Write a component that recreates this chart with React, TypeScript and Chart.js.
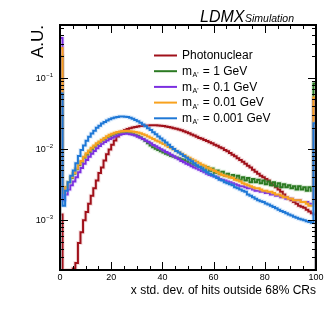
import React, { useEffect, useRef } from "react";
import { Chart, registerables } from "chart.js";
Chart.register(...registerables);

const X_MIN = 0;
const X_MAX = 100;
const X_MAJOR_TICKS = [0, 20, 40, 60, 80, 100];
const X_MINOR_STEP = 5;
const Y_MIN = 2e-4;
const Y_MAX = 0.55;
const Y_DECADE_LABELS = [-3, -2, -1];

const SERIES_LABELS = ["Photonuclear", "1 GeV", "0.1 GeV", "0.01 GeV", "0.001 GeV"];
const SERIES_COLORS = ["#a0101a", "#2b7a22", "#7b2fe0", "#f8a21e", "#1f78d6"];
const HALO_COLORS = [
  "rgba(200,90,95,0.2)",
  "rgba(110,180,100,0.22)",
  "rgba(170,130,240,0.2)",
  "rgba(250,200,120,0.25)",
  "rgba(120,180,240,0.25)",
];

// 100 bins of width 1, from 0 to 100
const photonuclear = [
  0.0012, 0, 0, 0, 0, 0.00021, 0.00025, 0.00048, 0.00068, 0.0010,
  0.0013, 0.0017, 0.0022, 0.0028, 0.0036, 0.0046, 0.0055, 0.0069, 0.0084, 0.0098,
  0.0115, 0.0131, 0.0150, 0.0165, 0.0176, 0.0185, 0.0190, 0.0196, 0.0200, 0.0204,
  0.0207, 0.0210, 0.0212, 0.0213, 0.0214, 0.0215, 0.0215, 0.0215, 0.0214, 0.0212,
  0.0210, 0.0207, 0.0203, 0.0200, 0.0196, 0.0192, 0.0188, 0.0183, 0.0178, 0.0172,
  0.0166, 0.0160, 0.0154, 0.0148, 0.0143, 0.0139, 0.0134, 0.0129, 0.0124, 0.0120,
  0.0115, 0.0111, 0.0106, 0.0102, 0.0097, 0.0093, 0.0088, 0.0083, 0.0079, 0.0074,
  0.0070, 0.0066, 0.0062, 0.0058, 0.0055, 0.0051, 0.0048, 0.0045, 0.0042, 0.0040,
  0.0038, 0.0036, 0.0033, 0.0031, 0.0029, 0.0027, 0.0025, 0.0023, 0.0021, 0.0020,
  0.0019, 0.0018, 0.0017, 0.0016, 0.00155, 0.0015, 0.0014, 0.00132, 0.00125, 0.0012,
];
const mA1GeV = [
  0.2, 0.0027, 0.0029, 0.0034, 0.0039, 0.0045, 0.0052, 0.0059, 0.0066, 0.0075,
  0.0083, 0.0091, 0.0099, 0.0107, 0.0115, 0.0122, 0.0130, 0.0137, 0.0144, 0.0150,
  0.0156, 0.0161, 0.0165, 0.0168, 0.0170, 0.0171, 0.0170, 0.0168, 0.0164, 0.0159,
  0.0153, 0.0146, 0.0138, 0.0129, 0.0120, 0.0112, 0.0106, 0.0101, 0.0097, 0.0093,
  0.0089, 0.0086, 0.0083, 0.0080, 0.0078, 0.0076, 0.0074, 0.0072, 0.0070, 0.0067,
  0.0064, 0.0062, 0.0059, 0.0057, 0.0056, 0.0058, 0.0050, 0.0056, 0.0049, 0.0053,
  0.0046, 0.0050, 0.0044, 0.0048, 0.0042, 0.0045, 0.0040, 0.0043, 0.0038, 0.0042,
  0.0037, 0.0040, 0.0036, 0.0039, 0.0034, 0.0038, 0.0034, 0.0037, 0.0033, 0.0036,
  0.0032, 0.0035, 0.0031, 0.0034, 0.0030, 0.0033, 0.0029, 0.0032, 0.0029, 0.0031,
  0.0028, 0.0030, 0.0027, 0.0030, 0.0027, 0.0029, 0.0026, 0.0029, 0.0026, 0.083,
];
const mA01GeV = [
  0.36, 0.0019, 0.0023, 0.0027, 0.0031, 0.0035, 0.0040, 0.0047, 0.0054, 0.0062,
  0.0070, 0.0078, 0.0086, 0.0094, 0.0102, 0.0110, 0.0118, 0.0125, 0.0131, 0.0138,
  0.0144, 0.0150, 0.0155, 0.0159, 0.0162, 0.0163, 0.0163, 0.0161, 0.0158, 0.0154,
  0.0149, 0.0144, 0.0138, 0.0132, 0.0126, 0.0120, 0.0114, 0.0109, 0.0104, 0.0099,
  0.0095, 0.0091, 0.0087, 0.0083, 0.0079, 0.0075, 0.0072, 0.0068, 0.0065, 0.0062,
  0.0060, 0.0057, 0.0055, 0.0053, 0.0051, 0.0049, 0.0047, 0.0045, 0.0043, 0.0042,
  0.0041, 0.0040, 0.0038, 0.0037, 0.0036, 0.0035, 0.0034, 0.0033, 0.0032, 0.0031,
  0.0030, 0.0030, 0.0029, 0.0028, 0.0028, 0.0027, 0.0026, 0.0026, 0.0025, 0.0025,
  0.0024, 0.0024, 0.0023, 0.0023, 0.0022, 0.0022, 0.0021, 0.0021, 0.0020, 0.0020,
  0.0020, 0.0019, 0.0019, 0.0019, 0.0018, 0.0018, 0.0018, 0.0017, 0.0017, 0.05,
];
const mA001GeV = [
  0.26, 0.0024, 0.0029, 0.0034, 0.0040, 0.0046, 0.0053, 0.0061, 0.0068, 0.0078,
  0.0087, 0.0095, 0.0104, 0.0112, 0.0120, 0.0127, 0.0135, 0.0143, 0.0151, 0.0158,
  0.0164, 0.0169, 0.0173, 0.0176, 0.0178, 0.0179, 0.0179, 0.0178, 0.0176, 0.0173,
  0.0170, 0.0166, 0.0161, 0.0156, 0.0150, 0.0144, 0.0138, 0.0132, 0.0127, 0.0122,
  0.0117, 0.0112, 0.0107, 0.0102, 0.0098, 0.0094, 0.0090, 0.0086, 0.0082, 0.0078,
  0.0075, 0.0072, 0.0069, 0.0066, 0.0063, 0.0060, 0.0058, 0.0055, 0.0053, 0.0051,
  0.0049, 0.0047, 0.0045, 0.0043, 0.0042, 0.0041, 0.0040, 0.0039, 0.0037, 0.0036,
  0.0035, 0.0033, 0.0032, 0.0031, 0.0030, 0.0029, 0.0028, 0.0028, 0.0027, 0.0026,
  0.0026, 0.0025, 0.0025, 0.0024, 0.0023, 0.0023, 0.0022, 0.0021, 0.0021, 0.0020,
  0.0020, 0.0019, 0.0019, 0.0019, 0.0018, 0.0018, 0.0017, 0.0016, 0.0016, 0.053,
];
const mA0001GeV = [
  0.06, 0.0016, 0.0026, 0.0034, 0.0042, 0.0050, 0.0063, 0.0080, 0.0097, 0.0112,
  0.0130, 0.0148, 0.0165, 0.0180, 0.0198, 0.0212, 0.0228, 0.0240, 0.0252, 0.0262,
  0.0270, 0.0276, 0.0281, 0.0285, 0.0286, 0.0284, 0.0280, 0.0274, 0.0266, 0.0256,
  0.0245, 0.0233, 0.0221, 0.0208, 0.0196, 0.0184, 0.0172, 0.0161, 0.0150, 0.0140,
  0.0131, 0.0123, 0.0115, 0.0107, 0.0100, 0.0094, 0.0089, 0.0084, 0.0080, 0.0075,
  0.0071, 0.0067, 0.0063, 0.0059, 0.0056, 0.0053, 0.0050, 0.0047, 0.0045, 0.0043,
  0.0041, 0.0039, 0.0037, 0.0036, 0.0034, 0.0033, 0.0032, 0.0031, 0.0029, 0.0028,
  0.0027, 0.0026, 0.0025, 0.0023, 0.0022, 0.0021, 0.0020, 0.0019, 0.00185, 0.0018,
  0.00172, 0.00166, 0.0016, 0.00153, 0.00147, 0.0014, 0.00135, 0.0013, 0.00125, 0.0012,
  0.00116, 0.00112, 0.00108, 0.00105, 0.00102, 0.0010, 0.00097, 0.00094, 0.00092, 0.023,
];

const SERIES = [photonuclear, mA1GeV, mA01GeV, mA001GeV, mA0001GeV];

const FONT = "'Liberation Sans', Arial, Helvetica, sans-serif";

function histPoints(values: number[]) {
  const pts: { x: number; y: number }[] = [{ x: X_MIN, y: Y_MIN }];
  values.forEach((v, i) => pts.push({ x: X_MIN + i, y: Math.max(v, Y_MIN) }));
  pts.push({ x: X_MAX, y: Math.max(values[values.length - 1], Y_MIN) });
  pts.push({ x: X_MAX, y: Y_MIN });
  return pts;
}

const decorPlugin = {
  id: "decor",
  afterDatasetsDraw(chart: any) {
    const { ctx, chartArea: a, scales } = chart;
    const xs = scales.x;
    const ys = scales.y;
    ctx.save();
    ctx.strokeStyle = "#000";
    ctx.fillStyle = "#000";
    const seg = (x1: number, y1: number, x2: number, y2: number) => {
      ctx.beginPath();
      ctx.moveTo(x1, y1);
      ctx.lineTo(x2, y2);
      ctx.stroke();
    };
    ctx.lineWidth = 1;
    for (let v = X_MIN; v <= X_MAX; v += X_MINOR_STEP) {
      const px = Math.round(xs.getPixelForValue(v)) + 0.5;
      const len = X_MAJOR_TICKS.includes(v) ? 8 : 4;
      seg(px, a.bottom, px, a.bottom - len);
      seg(px, a.top, px, a.top + len);
    }
    for (let e = -5; e <= 0; e++) {
      for (let k = 1; k <= 9; k++) {
        const v = k * Math.pow(10, e);
        if (v < Y_MIN * 0.999 || v > Y_MAX) continue;
        const py = Math.round(ys.getPixelForValue(v)) + 0.5;
        const len = k === 1 ? 8 : 4;
        seg(a.left, py, a.left + len, py);
        seg(a.right, py, a.right - len, py);
      }
    }
    ctx.lineWidth = 2;
    ctx.strokeRect(a.left, a.top, a.right - a.left, a.bottom - a.top);

    ctx.font = `9px ${FONT}`;
    ctx.textAlign = "center";
    ctx.textBaseline = "middle";
    X_MAJOR_TICKS.forEach((v) => {
      ctx.fillText(String(v), xs.getPixelForValue(v), a.bottom + 8);
    });
    Y_DECADE_LABELS.forEach((e) => {
      const py = ys.getPixelForValue(Math.pow(10, e));
      const sup = "\u2212" + Math.abs(e);
      ctx.font = `6px ${FONT}`;
      const sw = ctx.measureText(sup).width;
      const right = a.left - 7;
      ctx.textAlign = "left";
      ctx.textBaseline = "alphabetic";
      ctx.fillText(sup, right - sw, py - 1);
      ctx.font = `9px ${FONT}`;
      ctx.textAlign = "right";
      ctx.fillText("10", right - sw - 0.5, py + 3);
    });

    ctx.font = `12px ${FONT}`;
    ctx.textAlign = "right";
    ctx.textBaseline = "alphabetic";
    ctx.fillText("x std. dev. of hits outside 68% CRs", a.right, a.bottom + 24);

    ctx.save();
    ctx.translate(a.left - 17, a.top);
    ctx.rotate(-Math.PI / 2);
    ctx.font = `17px ${FONT}`;
    ctx.textAlign = "right";
    ctx.fillText("A.U.", 0, 0);
    ctx.restore();

    ctx.textAlign = "left";
    ctx.font = `italic 16px ${FONT}`;
    ctx.fillText("LDMX", 200, 21.5);
    ctx.font = `italic 10.5px ${FONT}`;
    ctx.fillText("Simulation", 245, 21.5);

    const lx0 = 154;
    const lx1 = 177;
    const tx = 182;
    SERIES_LABELS.forEach((lab, i) => {
      const y = 55.5 + i * 15.7;
      ctx.strokeStyle = SERIES_COLORS[i];
      ctx.lineWidth = 2;
      seg(lx0, y, lx1, y);
      ctx.fillStyle = "#000";
      ctx.textBaseline = "middle";
      ctx.textAlign = "left";
      ctx.font = `12px ${FONT}`;
      if (i === 0) {
        ctx.fillText(lab, tx, y + 0.5);
      } else {
        ctx.fillText("m", tx, y + 0.5);
        let x = tx + ctx.measureText("m").width + 0.5;
        ctx.font = `7px ${FONT}`;
        ctx.fillText("A'", x, y + 4);
        x += ctx.measureText("A'").width + 1;
        ctx.font = `12px ${FONT}`;
        ctx.fillText(" = " + lab, x, y + 0.5);
      }
    });
    ctx.restore();
  },
};

export default function App() {
  const ref = useRef<HTMLCanvasElement>(null);
  useEffect(() => {
    if (!ref.current) return;
    const datasets: any[] = [];
    SERIES.forEach((vals, i) => {
      const base = {
        data: histPoints(vals),
        pointRadius: 0,
        stepped: "before" as const,
        fill: false,
        tension: 0,
        borderJoinStyle: "miter" as const,
      };
      datasets.push({
        ...base,
        label: SERIES_LABELS[i] + " band",
        borderColor: HALO_COLORS[i],
        borderWidth: 4,
        order: 2 * (SERIES.length - i) + 1,
      });
      datasets.push({
        ...base,
        label: SERIES_LABELS[i],
        borderColor: SERIES_COLORS[i],
        borderWidth: 2,
        order: 2 * (SERIES.length - i),
      });
    });
    const chart = new Chart(ref.current, {
      type: "line",
      data: { datasets },
      options: {
        animation: false,
        responsive: false,
        devicePixelRatio: 1,
        parsing: false,
        normalized: true,
        layout: { padding: { left: 60, right: 16, top: 25, bottom: 49 } },
        plugins: { legend: { display: false }, tooltip: { enabled: false } },
        scales: {
          x: { type: "linear", min: X_MIN, max: X_MAX, display: false },
          y: { type: "logarithmic", min: Y_MIN, max: Y_MAX, display: false },
        },
      },
      plugins: [decorPlugin],
    });
    return () => chart.destroy();
  }, []);
  return (
    <div style={{ position: "fixed", left: 0, top: 0, width: 332, height: 319, background: "#fff" }}>
      <canvas ref={ref} width={332} height={319} />
    </div>
  );
}
